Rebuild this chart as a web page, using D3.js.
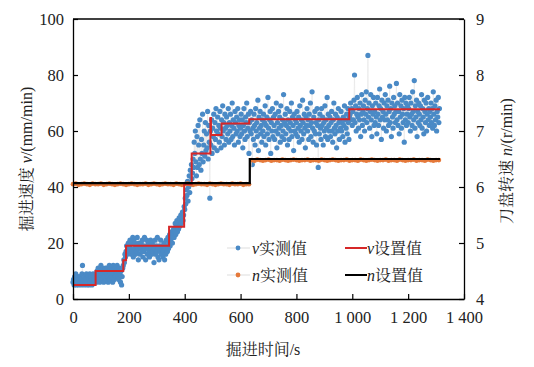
<!DOCTYPE html>
<html><head><meta charset="utf-8">
<script src="https://cdn.jsdelivr.net/npm/d3@7/dist/d3.min.js"></script>
<style>
body{margin:0;background:#fff;}
</style></head>
<body><svg id="c" width="534" height="367"></svg>
<script>
// ---- data ----
const xTicks = [0, 200, 400, 600, 800, 1000, 1200, 1400];
const vTicks = [0, 20, 40, 60, 80, 100];
const nTicks = [4, 5, 6, 7, 8, 9];

// measured advance speed v (mm/min), one sample every 2 s from t = 0
const vActualStep = 2;
const vActual = [
 6,7,5,8,6,9,5,7,6,8,5,7,6,8,7,5,9,12,6,7,
 5,8,6,7,9,5,6,8,7,5,9,6,8,7,5,6,9,7,8,6,
 7,9,6,10,8,11,7,9,6,10,12,8,7,11,9,6,10,8,11,7,
 9,11,8,6,10,12,7,9,11,8,10,6,12,9,7,11,8,10,9,12,
 8,10,7,11,9,6,10,5,8,11,12,14,13,16,15,17,19,16,18,20,
 17,19,21,18,16,20,17,22,15,21,18,20,16,19,17,22,18,14,20,19,
 16,18,20,17,21,15,19,17,22,18,14,19,21,16,18,20,17,15,19,21,
 18,16,20,17,19,13,18,21,16,19,17,22,15,18,14,19,17,21,16,18,
 19,15,17,20,14,18,16,21,19,17,22,18,20,23,19,21,24,22,20,23,
 25,22,24,27,23,26,28,24,27,25,29,26,28,30,27,29,31,28,30,33,
 32,36,34,39,37,42,35,40,44,38,46,41,48,43,45,50,47,56,52,60,
 49,44,58,47,62,55,48,64,50,46,57,52,66,49,55,60,51,63,53,59,
 54,67,50,62,56,36,60,55,64,52,61,58,66,54,63,57,68,60,53,65,
 59,62,56,67,61,54,64,58,69,60,63,55,66,61,57,65,62,59,68,56,
 63,60,66,57,62,70,58,64,61,55,67,63,59,65,60,68,56,62,64,58,
 61,66,59,64,54,62,68,60,57,65,63,70,58,61,66,52,63,60,67,59,
 64,48,61,57,66,62,55,68,60,63,58,71,53,65,61,67,59,62,56,64,
 60,66,58,63,69,55,62,65,59,72,61,57,64,67,52,63,60,68,58,65,
 62,57,66,60,70,54,63,59,67,61,65,56,69,62,58,64,60,73,57,63,
 66,59,62,68,55,64,61,57,67,63,60,70,58,65,62,53,66,60,64,59,
 63,67,58,61,65,56,69,62,60,64,57,71,63,59,66,61,54,65,62,68,
 60,64,57,66,62,70,58,63,74,61,56,65,60,67,59,63,55,68,62,47,
 64,59,66,61,57,68,62,65,55,63,60,69,58,64,61,72,57,66,62,60,
 65,58,63,67,60,56,64,70,61,59,66,62,54,65,60,68,63,57,64,61,
 67,60,63,58,65,62,69,56,64,61,66,59,68,63,57,65,66,70,64,68,
 62,67,64,71,80,63,69,60,66,72,65,61,68,64,70,58,66,73,62,67,
 69,64,60,71,66,74,63,68,87,65,70,61,67,73,64,58,69,66,72,62,
 67,63,70,65,59,72,66,62,69,75,64,68,57,71,65,67,61,70,64,73,
 66,60,69,64,71,62,67,76,63,68,58,70,65,61,72,66,69,63,67,77,
 64,70,62,67,59,73,65,69,61,71,66,63,68,56,72,64,70,62,66,69,
 63,68,72,65,60,70,66,62,74,67,64,78,61,69,65,71,58,67,63,70,
 66,62,69,64,73,61,68,65,59,71,67,63,70,60,66,72,64,68,62,67,
 65,70,63,68,61,74,66,62,69,64,71,60,67,65,72,63,68
];

// measured cutter speed n (r/min), one sample every 10 s from t = 0
const nActualStep = 10;
const nActual = [
 6.05,6.06,6.04,6.05,6.06,6.05,6.04,6.06,6.05,6.05,
 6.06,6.04,6.05,6.06,6.05,6.04,6.05,6.06,6.05,6.04,
 6.05,6.06,6.05,6.04,6.05,6.05,6.06,6.04,6.05,6.06,
 6.05,6.04,6.05,6.06,6.05,6.05,6.04,6.06,6.05,6.04,
 6.05,6.06,6.05,6.04,6.05,6.06,6.05,6.05,6.04,6.06,
 6.05,6.04,6.05,6.06,6.05,6.05,6.04,6.06,6.05,6.05,
 6.06,6.04,6.05,6.05,
 6.48,6.47,6.49,6.48,6.47,6.48,6.49,6.47,6.48,6.48,
 6.47,6.49,6.48,6.47,6.48,6.49,6.48,6.47,6.48,6.48,
 6.49,6.47,6.48,6.48,6.47,6.49,6.48,6.47,6.48,6.49,
 6.48,6.47,6.48,6.48,6.49,6.47,6.48,6.48,6.47,6.49,
 6.48,6.47,6.48,6.49,6.48,6.47,6.48,6.48,6.49,6.47,
 6.48,6.48,6.47,6.49,6.48,6.47,6.48,6.48,6.49,6.47,
 6.48,6.48,6.47,6.49,6.48,6.47,6.48,6.48
];

// set values (step functions)
const vSetTimes  = [0, 81, 180, 190, 344, 398, 425, 492, 494, 532, 631, 989, 1314];
const vSetValues = [5, 10, 13.8, 19, 25.8, 41, 52, 64.6, 58.6, 62.7, 64.2, 67.8, 67.8];
const nSetTimes  = [0, 633, 1314];
const nSetValues = [6.07, 6.5, 6.5];

// ---- chart ----
const SERIF = "'Liberation Serif','Times New Roman',serif";
const MIXED = "'Liberation Serif','Noto Serif CJK SC','Noto Sans CJK SC',serif";
const svg = d3.select("#c");
const L = 73, R = 464, T = 19, B = 299;
const x = d3.scaleLinear().domain([0, 1400]).range([L, R]);
const yv = d3.scaleLinear().domain([0, 100]).range([B, T]);
const yn = d3.scaleLinear().domain([4, 9]).range([B, T]);

const fmt = d3.formatLocale({decimal: ".", thousands: " ", grouping: [3], currency: ["", ""]}).format(",");

const vPts = vActual.map((v, i) => [i * vActualStep, v]);
const nPts = nActual.map((v, i) => [i * nActualStep, v]);
const vSet = vSetTimes.map((t, i) => [t, vSetValues[i]]);
const nSet = nSetTimes.map((t, i) => [t, nSetValues[i]]);

const blue = "#4a8ac6", orange = "#e5793a", red = "#d62728";

// v actual: faint connecting line + dots
svg.append("path").datum(vPts)
  .attr("d", d3.line().x(d => x(d[0])).y(d => yv(d[1])))
  .attr("fill", "none").attr("stroke", "#e4e4e4").attr("stroke-width", 0.6);
svg.append("g").selectAll("circle").data(vPts).join("circle")
  .attr("cx", d => x(d[0])).attr("cy", d => yv(d[1])).attr("r", 2.6).attr("fill", blue);

// n actual
svg.append("path").datum(nPts)
  .attr("d", d3.line().x(d => x(d[0])).y(d => yn(d[1])))
  .attr("fill", "none").attr("stroke", "#f3c7a8").attr("stroke-width", 0.8);
svg.append("g").selectAll("circle").data(nPts).join("circle")
  .attr("cx", d => x(d[0])).attr("cy", d => yn(d[1])).attr("r", 2.4).attr("fill", orange);

// set lines
svg.append("path").datum(vSet)
  .attr("d", d3.line().curve(d3.curveStepAfter).x(d => x(d[0])).y(d => yv(d[1])))
  .attr("fill", "none").attr("stroke", red).attr("stroke-width", 2);
svg.append("path").datum(nSet)
  .attr("d", d3.line().curve(d3.curveStepAfter).x(d => x(d[0])).y(d => yn(d[1])))
  .attr("fill", "none").attr("stroke", "#000").attr("stroke-width", 2.2);

// axes
function styleAxis(g) {
  g.attr("font-family", null);
  g.selectAll(".domain").attr("stroke", "#000").attr("stroke-width", 1.3);
  g.selectAll(".tick line").attr("stroke", "#000").attr("stroke-width", 1.2);
  g.selectAll("text").attr("fill", "#222")
    .style("font-family", SERIF).style("font-size", "16.5px");
}
svg.append("g").attr("transform", `translate(0,${B})`)
  .call(d3.axisBottom(x).tickValues(xTicks).tickFormat(fmt).tickSizeInner(-5).tickSizeOuter(0).tickPadding(12))
  .call(styleAxis);
svg.append("g").attr("transform", `translate(${L},0)`)
  .call(d3.axisLeft(yv).tickValues(vTicks).tickFormat(d3.format("d")).tickSizeInner(-5).tickSizeOuter(0).tickPadding(9))
  .call(styleAxis);
svg.append("g").attr("transform", `translate(${R},0)`)
  .call(d3.axisRight(yn).tickValues(nTicks).tickFormat(d3.format("d")).tickSizeInner(-5).tickSizeOuter(0).tickPadding(12))
  .call(styleAxis);
svg.append("line").attr("x1", L).attr("x2", R).attr("y1", T).attr("y2", T)
  .attr("stroke", "#000").attr("stroke-width", 1.3);

// axis titles
function txt(sel) { return sel.style("font-family", MIXED).style("font-size", "16px").attr("fill", "#222"); }
svg.append("text").attr("x", 263).attr("y", 355).attr("text-anchor", "middle")
  .call(txt).text("掘进时间/s");

const lt = svg.append("text").attr("transform", "translate(32,159) rotate(-90)")
  .attr("text-anchor", "middle").call(txt);
lt.append("tspan").text("掘进速度 ");
lt.append("tspan").attr("font-style", "italic").text("v");
lt.append("tspan").text("/(mm/min)");

const rt = svg.append("text").attr("transform", "translate(512,161) rotate(-90)")
  .attr("text-anchor", "middle").call(txt);
rt.append("tspan").text("刀盘转速 ");
rt.append("tspan").attr("font-style", "italic").text("n");
rt.append("tspan").text("/(r/min)");

// legend
const leg = [
  {x: 227, y: 248, type: "pt", color: blue, lineColor: "#ddd", sym: "v", label: "实测值"},
  {x: 227, y: 275, type: "pt", color: orange, lineColor: "#ddd", sym: "n", label: "实测值"},
  {x: 345, y: 248, type: "ln", color: red, sym: "v", label: "设置值"},
  {x: 345, y: 275, type: "ln", color: "#000", sym: "n", label: "设置值"}
];
leg.forEach(d => {
  const g = svg.append("g");
  if (d.type === "pt") {
    g.append("line").attr("x1", d.x).attr("x2", d.x + 23).attr("y1", d.y).attr("y2", d.y)
      .attr("stroke", d.lineColor).attr("stroke-width", 1);
    g.append("circle").attr("cx", d.x + 11).attr("cy", d.y).attr("r", 2.4).attr("fill", d.color);
  } else {
    g.append("line").attr("x1", d.x).attr("x2", d.x + 22).attr("y1", d.y).attr("y2", d.y)
      .attr("stroke", d.color).attr("stroke-width", 2);
  }
  const t = g.append("text").attr("x", d.x + (d.type === "pt" ? 25 : 22)).attr("y", d.y + 6).call(txt);
  t.append("tspan").attr("font-style", "italic").text(d.sym);
  t.append("tspan").text(d.label);
});
</script></body></html>
